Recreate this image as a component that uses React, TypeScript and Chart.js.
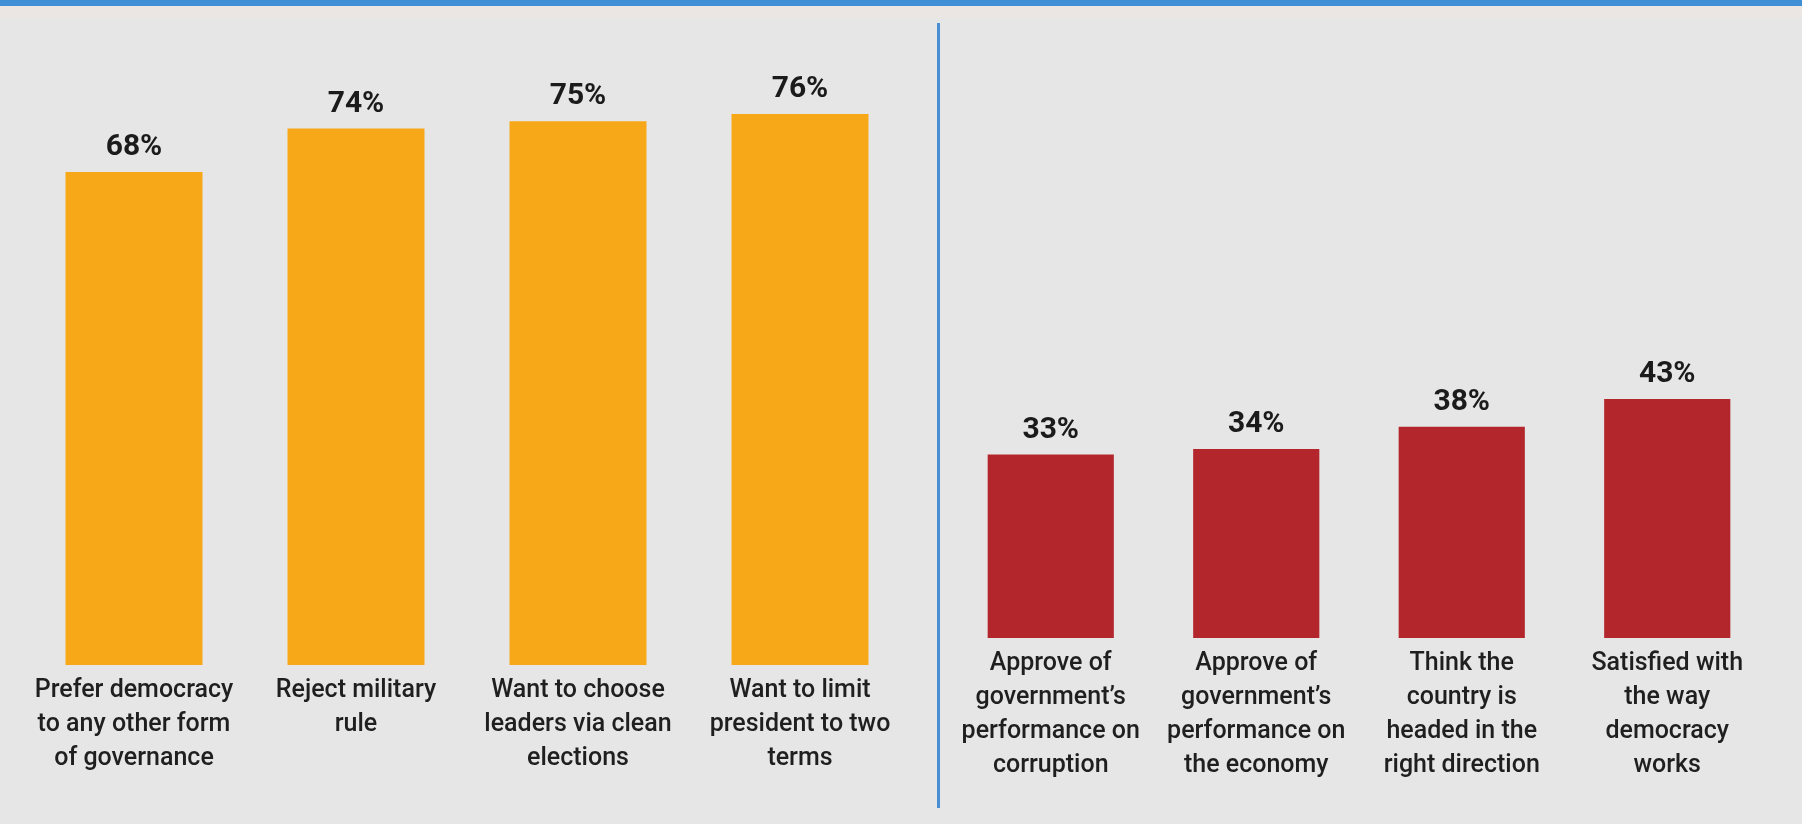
import React, { useEffect, useRef } from "react";
import { Chart, registerables } from "chart.js";

Chart.register(...registerables);

// ---- Data ----
const leftCategories: string[][] = [
  ["Prefer democracy", "to any other form", "of governance"],
  ["Reject military", "rule"],
  ["Want to choose", "leaders via clean", "elections"],
  ["Want to limit", "president to two", "terms"],
];
const leftValues: number[] = [68, 74, 75, 76];

const rightCategories: string[][] = [
  ["Approve of", "government’s", "performance on", "corruption"],
  ["Approve of", "government’s", "performance on", "the economy"],
  ["Think the", "country is", "headed in the", "right direction"],
  ["Satisfied with", "the way", "democracy", "works"],
];
const rightValues: number[] = [33, 34, 38, 43];

const ORANGE = "#f6a818";
const RED = "#b3272c";
const BG = "#e6e6e6";
const BLUE = "#3f8fd6";

const valueLabelPlugin = {
  id: "valueLabels",
  afterDatasetsDraw(chart: any) {
    const ctx = chart.ctx;
    const meta = chart.getDatasetMeta(0);
    const data = chart.data.datasets[0].data as number[];
    ctx.save();
    ctx.font = "bold 30px Roboto";
    ctx.fillStyle = "#1b1b1b";
    ctx.textAlign = "center";
    ctx.textBaseline = "alphabetic";
    meta.data.forEach((bar: any, i: number) => {
      ctx.fillText(`${data[i]}%`, bar.x, bar.y - 17);
    });
    ctx.restore();
  },
};

function BarPanel(props: {
  labels: string[][];
  values: number[];
  color: string;
  width: number;
  yMax: number;
  padLeft: number;
  padRight: number;
  padTop: number;
  axisHeight: number;
  barPct: number;
}) {
  const ref = useRef<HTMLCanvasElement | null>(null);
  useEffect(() => {
    if (!ref.current) return;
    const chart = new Chart(ref.current, {
      type: "bar",
      data: {
        labels: props.labels,
        datasets: [
          {
            data: props.values,
            backgroundColor: props.color,
            borderWidth: 0,
            categoryPercentage: 1,
            barPercentage: props.barPct,
          },
        ],
      },
      options: {
        responsive: false,
        animation: false,
        layout: {
          padding: { left: props.padLeft, right: props.padRight, top: props.padTop, bottom: 0 },
        },
        plugins: { legend: { display: false }, tooltip: { enabled: false } },
        scales: {
          x: {
            grid: { display: false, drawTicks: false },
            border: { display: false },
            ticks: {
              autoSkip: false,
              maxRotation: 0,
              minRotation: 0,
              padding: 9,
              color: "#1f1f1f",
              font: { family: "Roboto", size: 25, weight: "500", lineHeight: 1.36 },
            },
            afterFit: (scale: any) => {
              scale.height = props.axisHeight;
            },
          },
          y: {
            display: false,
            min: 0,
            max: props.yMax,
          },
        },
      },
      plugins: [valueLabelPlugin],
    });
    return () => chart.destroy();
  }, []);
  return <canvas ref={ref} width={props.width} height={824} style={{ display: "block" }} />;
}

export default function App() {
  return (
    <div
      style={{
        position: "absolute",
        left: 0,
        top: 0,
        width: 1802,
        height: 824,
        background: BG,
        overflow: "hidden",
      }}
    >
      <div style={{ position: "absolute", left: 0, top: 0, width: 1802, height: 6, background: BLUE }} />
      <div style={{ position: "absolute", left: 0, top: 6, width: 1802, height: 12, background: "#ebe6e3" }} />
      <div style={{ position: "absolute", left: 937, top: 23, width: 3, height: 785, background: "#4a8fd4" }} />
      <div style={{ position: "absolute", left: 0, top: 0 }}>
        <BarPanel
          labels={leftCategories}
          values={leftValues}
          color={ORANGE}
          width={935}
          yMax={80}
          padLeft={23}
          padRight={24}
          padTop={85}
          axisHeight={159}
          barPct={0.617}
        />
      </div>
      <div style={{ position: "absolute", left: 942, top: 0 }}>
        <BarPanel
          labels={rightCategories}
          values={rightValues}
          color={RED}
          width={860}
          yMax={100}
          padLeft={6}
          padRight={32}
          padTop={82}
          axisHeight={186}
          barPct={0.614}
        />
      </div>
    </div>
  );
}
